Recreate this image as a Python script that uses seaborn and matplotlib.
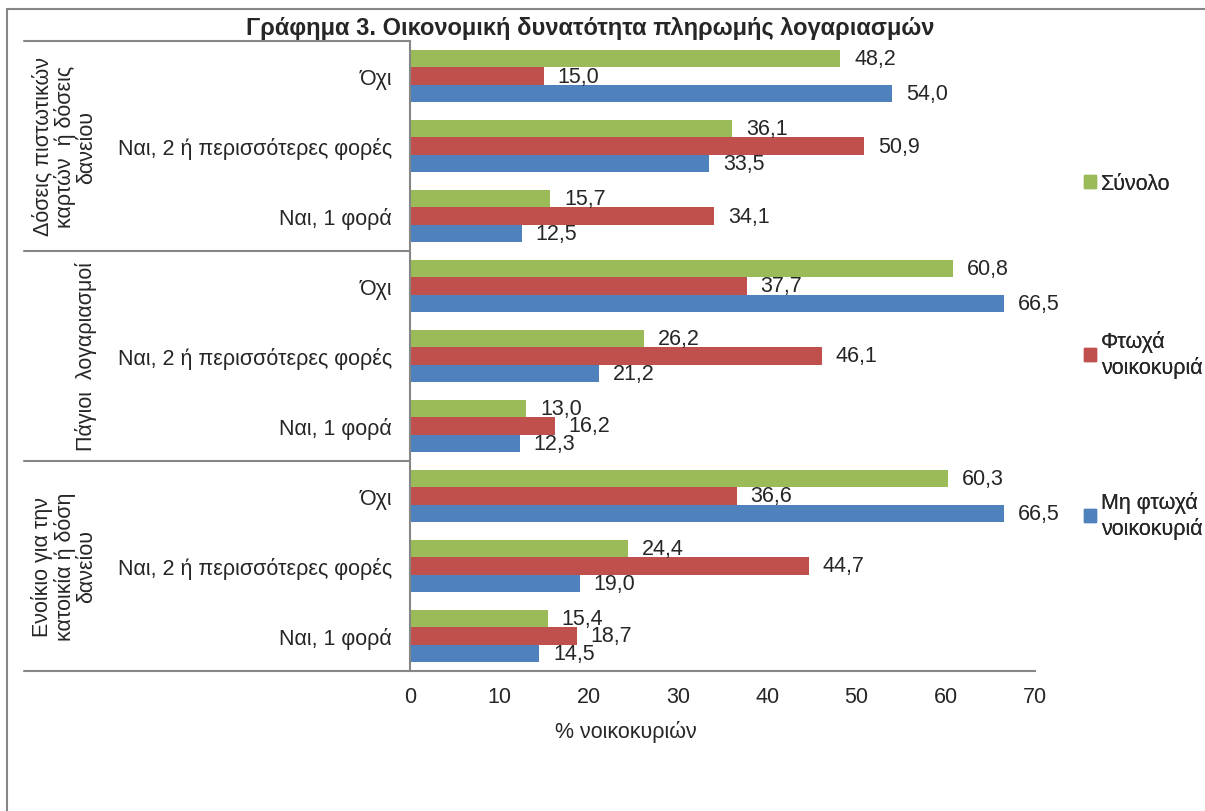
import numpy as np
import pandas as pd
import seaborn as sns
import matplotlib.pyplot as plt
from matplotlib.patches import Rectangle, Patch

# data (top to bottom)
groups = ["Δόσεις πιστωτικών\nκαρτών  ή δόσεις\nδανείου",
          "Πάγιοι  λογαριασμοί",
          "Ενοίκιο για την\nκατοικία ή δόση\nδανείου"]
answers = ["Όχι", "Ναι, 2 ή περισσότερες φορές", "Ναι, 1 φορά"]
series = ["Σύνολο", "Φτωχά\nνοικοκυριά", "Μη φτωχά\nνοικοκυριά"]
colors = ["#9BBB59", "#C0504D", "#4F81BD"]

total = [48.2, 36.1, 15.7, 60.8, 26.2, 13.0, 60.3, 24.4, 15.4]
poor = [15.0, 50.9, 34.1, 37.7, 46.1, 16.2, 36.6, 44.7, 18.7]
nonpoor = [54.0, 33.5, 12.5, 66.5, 21.2, 12.3, 66.5, 19.0, 14.5]

rows = [str(g) + "|" + a for g in range(len(groups)) for a in answers]
df = pd.DataFrame({
    "row": rows * 3,
    "series": [series[0]] * 9 + [series[1]] * 9 + [series[2]] * 9,
    "value": total + poor + nonpoor,
})

sns.set_style("white")
plt.rcParams['font.family'] = ['Liberation Sans', 'DejaVu Sans']
fs = 15.5
plt.rcParams['font.size'] = fs
grey = "#868686"

fig = plt.figure(figsize=(12.05, 8.12), dpi=100)
ax = fig.add_axes([410 / 1205, 1 - 672 / 812, 625 / 1205, 630 / 812])

sns.barplot(data=df, x="value", y="row", hue="series", order=rows, hue_order=series,
            palette=colors, orient="h", width=0.73, saturation=1, linewidth=0,
            legend=False, ax=ax)

for cont, vals in zip(ax.containers, [total, poor, nonpoor]):
    ax.bar_label(cont, labels=[f"{v:.1f}".replace(".", ",") for v in vals],
                 padding=10, fontsize=fs)

ax.set_xlim(0, 70)
ax.set_xticks(range(0, 71, 10))
ax.set_ylim(8.5, -0.5)
ax.set_yticks(range(9))
ax.set_yticklabels(answers * 3)
ax.tick_params(axis="both", length=0, labelsize=fs)
ax.tick_params(axis="x", pad=11)
ax.tick_params(axis="y", pad=13)
ax.set_ylabel("")
ax.set_xlabel("% νοικοκυριών", fontsize=fs)
ax.xaxis.set_label_coords(0.346, -0.077)

for s in ["top", "right"]:
    ax.spines[s].set_visible(False)
for s in ["left", "bottom"]:
    ax.spines[s].set_color(grey)
    ax.spines[s].set_linewidth(1.5)

# group separators and group labels on the left
tr = ax.get_yaxis_transform()
for yb in [-0.5, 2.5, 5.5, 8.5]:
    ax.plot([-0.618, 0], [yb, yb], color=grey, lw=1.5, transform=tr, clip_on=False)
for i, g in enumerate(groups):
    ax.text(-0.50, 3 * i + 1, g, rotation=90, ha="right", va="center",
            multialignment="center", fontsize=fs, linespacing=1.05, transform=tr)

# one legend entry each, spread down the right side like the original
for lab, col, ypx in zip(series, colors, [185, 355, 516]):
    leg = fig.legend(handles=[Patch(color=col)], labels=[lab],
                     loc="center left", bbox_to_anchor=(1084 / 1205, 1 - ypx / 812),
                     frameon=False, handlelength=0.55, handleheight=0.55,
                     handletextpad=0.25, borderpad=0, borderaxespad=0, fontsize=fs)
    fig.add_artist(leg)

fig.text(590 / 1205, 1 - 28 / 812, "Γράφημα 3. Οικονομική δυνατότητα πληρωμής λογαριασμών",
         ha="center", va="center", fontsize=17, fontweight="bold")

fig.add_artist(Rectangle((7 / 1205, -0.1), 1.2, 1.1 - 10 / 812, transform=fig.transFigure,
                         fill=False, edgecolor=grey, lw=1.5, clip_on=False))

fig.savefig("out.png", dpi=100)
